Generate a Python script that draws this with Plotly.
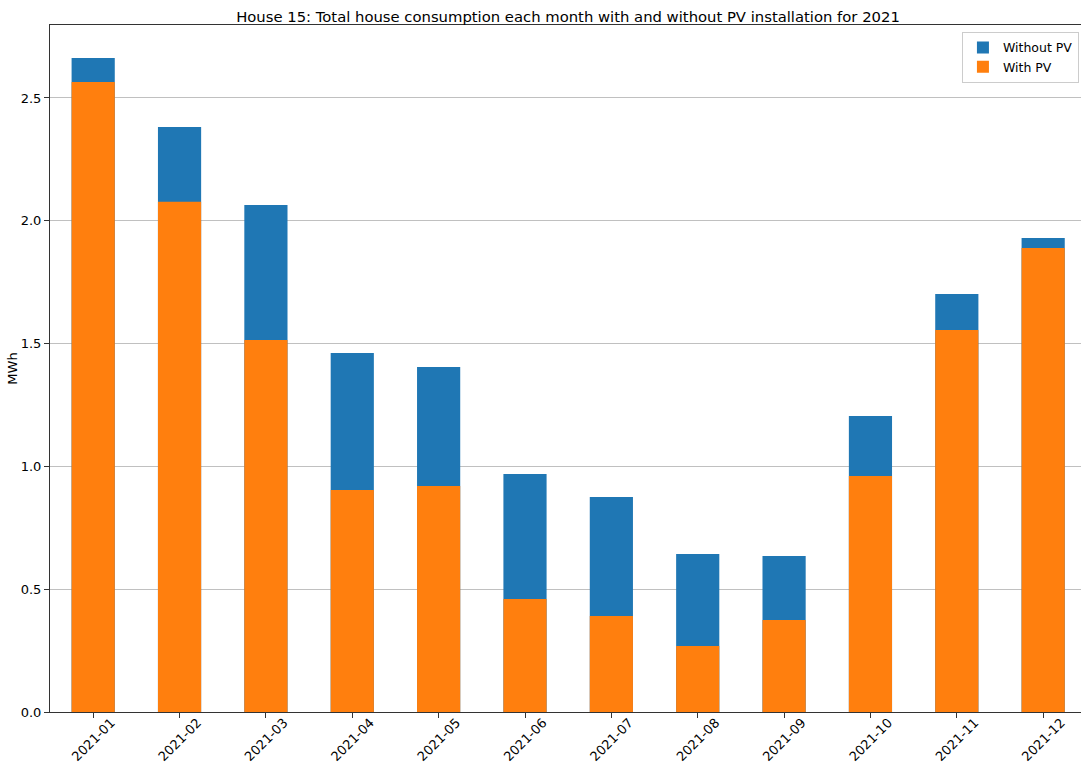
import plotly.graph_objects as go

months = ["2021-01", "2021-02", "2021-03", "2021-04", "2021-05", "2021-06",
          "2021-07", "2021-08", "2021-09", "2021-10", "2021-11", "2021-12"]
without_pv = [2.663, 2.382, 2.064, 1.462, 1.405, 0.969, 0.875, 0.643, 0.635, 1.205, 1.702, 1.930]
with_pv = [2.565, 2.077, 1.515, 0.904, 0.920, 0.460, 0.391, 0.269, 0.375, 0.961, 1.555, 1.889]
yticks = [0.0, 0.5, 1.0, 1.5, 2.0, 2.5]

FONT = "DejaVu Sans"

fig = go.Figure()
fig.add_trace(go.Bar(x=months, y=without_pv, name="Without PV",
                     marker=dict(color="#1f77b4", line=dict(width=0)), width=0.5))
fig.add_trace(go.Bar(x=months, y=with_pv, name="With PV",
                     marker=dict(color="#ff7f0e", line=dict(width=0)), width=0.5))

fig.update_layout(
    width=1081, height=765,
    barmode="overlay",
    plot_bgcolor="white", paper_bgcolor="white",
    font=dict(family=FONT, size=13, color="black"),
    margin=dict(l=50, r=0, t=25, b=53, autoexpand=False),
    title=dict(text="House 15: Total house consumption each month with and without PV installation for 2021",
               x=568 / 1081, xref="container", xanchor="center",
               y=1 - 17 / 765, yref="container", yanchor="middle",
               font=dict(family=FONT, size=14.8, color="black")),
    legend=dict(x=0.998, y=0.99, xanchor="right", yanchor="top",
                bgcolor="rgba(255,255,255,0.8)", bordercolor="#cccccc", borderwidth=1,
                font=dict(family=FONT, size=12.5), traceorder="normal",
                tracegroupgap=0, itemwidth=30),
    showlegend=True,
)
fig.update_xaxes(
    type="category", range=[-0.5, 11.438], automargin=False,
    showline=True, linecolor="#333333", linewidth=1, mirror=True,
    ticks="outside", ticklen=5, tickcolor="#333333",
    tickangle=-45, ticklabelshift=18, ticklabelstandoff=-8, showgrid=False,
    tickfont=dict(family=FONT, size=13),
)
fig.update_yaxes(
    range=[0, 2.797], tickvals=yticks, tickformat=".1f", automargin=False,
    showline=True, linecolor="#333333", linewidth=1,
    ticks="outside", ticklen=5, tickcolor="#333333",
    showgrid=True, gridcolor="rgba(176,176,176,0.8)", gridwidth=1,
    layer="above traces", zeroline=False,
    title=dict(text="MWh", font=dict(family=FONT, size=13), standoff=0),
    tickfont=dict(family=FONT, size=13),
)

fig.write_html("out.html", config={"displayModeBar": False},
               post_script="document.body.style.margin='0';document.body.style.overflow='hidden';")
